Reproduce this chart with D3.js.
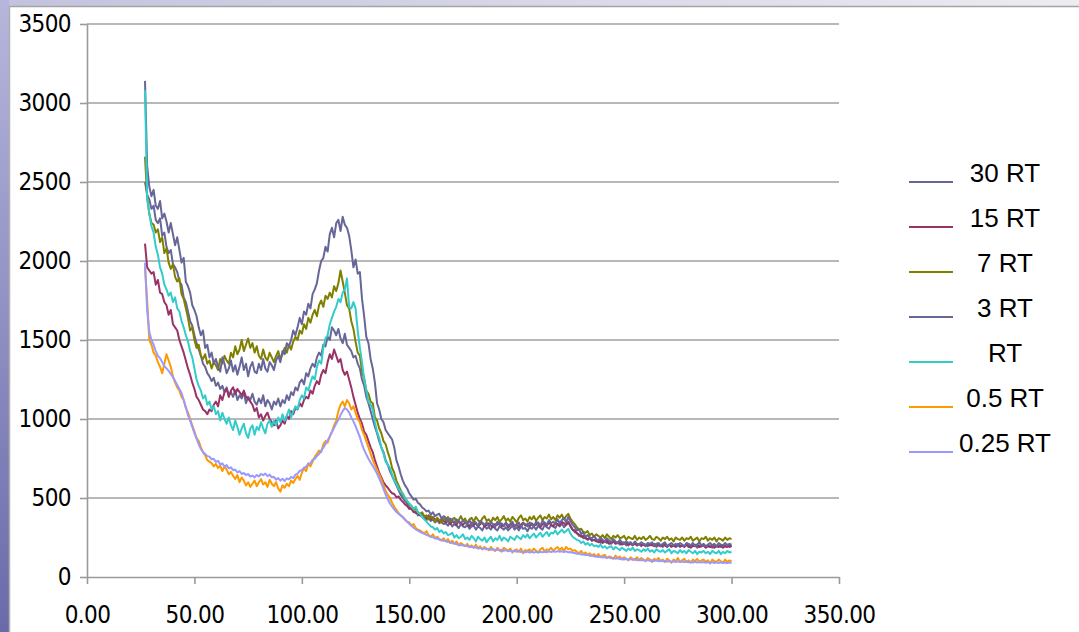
<!DOCTYPE html>
<html>
<head>
<meta charset="utf-8">
<script src="https://cdn.jsdelivr.net/npm/d3@7"></script>
<style>
  html, body { margin: 0; padding: 0; background: #ffffff; }
  svg { display: block; }
</style>
</head>
<body>
<svg id="chart" width="1079" height="632"></svg>
<script>
// Sample positions: one reading per unit from 27 to 300
const xStart = 27;
const xEnd = 300;

const xTicks = [0, 50, 100, 150, 200, 250, 300, 350];
const yTicks = [0, 500, 1000, 1500, 2000, 2500, 3000, 3500];

const seriesNames = ["30 RT", "15 RT", "7 RT", "3 RT", "RT", "0.5 RT", "0.25 RT"];
const seriesColors = ["#666699", "#993366", "#808000", "#666699", "#33CCCC", "#FF9900", "#9999FF"];

const rt30 = [
  2500, 2420, 2390, 2330, 2350, 2260, 2240, 2270, 2160, 2180,
  2090, 2050, 2070, 1980, 1960, 1930, 1870, 1850, 1770, 1740,
  1680, 1620, 1590, 1530, 1480, 1440, 1400, 1350, 1330, 1290,
  1270, 1240, 1260, 1210, 1230, 1190, 1210, 1170, 1200, 1150,
  1170, 1140, 1180, 1120, 1150, 1130, 1170, 1100, 1140, 1120,
  1160, 1110, 1090, 1130, 1100, 1150, 1080, 1120, 1100, 1060,
  1110, 1090, 1130, 1080, 1120, 1100, 1150, 1120, 1170, 1150,
  1200, 1180, 1230, 1250, 1220, 1290, 1270, 1320, 1350, 1330,
  1390, 1420, 1400, 1470, 1460, 1520, 1500, 1580, 1560, 1530,
  1570, 1510, 1480, 1540, 1470, 1450, 1430, 1390, 1400, 1350,
  1320, 1250, 1210, 1140, 1100, 1050, 1000, 950, 910, 860,
  820, 790, 740, 710, 670, 640, 610, 580, 550, 520,
  500, 480, 465, 440, 430, 410, 415, 390, 395, 380,
  375, 360, 380, 355, 365, 345, 360, 340, 350, 335,
  340, 325, 345, 320, 335, 325, 310, 335, 320, 315,
  330, 305, 320, 325, 300, 320, 310, 295, 325, 305,
  315, 300, 325, 305, 295, 320, 310, 300, 315, 295,
  310, 325, 300, 315, 295, 320, 305, 310, 290, 315,
  305, 320, 300, 325, 310, 300, 330, 315, 305, 330,
  320, 310, 335, 320, 340, 315, 330, 345, 325, 300,
  285, 280, 260, 265, 245, 250, 235, 245, 230, 235,
  225, 235, 215, 230, 225, 215, 230, 210, 225, 215,
  220, 205, 215, 220, 200, 215, 210, 200, 215, 205,
  210, 195, 210, 205, 195, 210, 200, 210, 190, 205,
  200, 190, 210, 195, 205, 190, 200, 195, 210, 190,
  200, 195, 205, 190, 200, 195, 205, 185, 200, 195,
  205, 190, 200, 195, 185, 205, 195, 200, 190, 200,
  195, 205, 190, 200
];

const rt15 = [
  2110, 1960, 1940, 1920, 1930, 1850, 1880, 1800, 1790, 1740,
  1720, 1660, 1690, 1600, 1580, 1560, 1500, 1460, 1420, 1370,
  1320, 1280, 1230, 1190, 1140, 1120, 1090, 1060, 1050, 1030,
  1060, 1050, 1090, 1110, 1080, 1150, 1120, 1170, 1190, 1140,
  1180, 1200, 1160, 1190, 1170, 1150, 1180, 1140, 1130, 1110,
  1090, 1050, 1070, 1010, 1030, 990, 1020, 1040, 1000, 980,
  960, 990, 940, 960, 990, 970, 1020, 1000, 1050, 1030,
  1070, 1060, 1100, 1080, 1120, 1140, 1130, 1180, 1160, 1210,
  1240, 1220, 1280, 1310, 1290, 1360, 1410, 1380, 1440, 1400,
  1360, 1380, 1310, 1280, 1300, 1250, 1200, 1140, 1090, 1040,
  1000, 970, 920, 900, 860, 820, 790, 740, 700, 660,
  630, 600, 580, 565, 545, 530, 525, 505, 510, 490,
  475, 460, 450, 430, 435, 415, 405, 410, 390, 400,
  385, 370, 390, 365, 380, 360, 370, 350, 365, 355,
  345, 360, 335, 350, 345, 330, 355, 340, 330, 345,
  335, 320, 345, 330, 340, 320, 335, 345, 320, 330,
  340, 325, 315, 335, 330, 345, 320, 330, 340, 315,
  330, 340, 320, 335, 315, 330, 345, 325, 335, 320,
  340, 325, 330, 345, 315, 335, 340, 325, 345, 330,
  320, 345, 335, 325, 350, 340, 330, 350, 320, 300,
  295, 275, 270, 255, 260, 245, 240, 250, 230, 235,
  230, 220, 235, 215, 225, 230, 210, 220, 225, 210,
  215, 220, 205, 210, 220, 200, 215, 205, 210, 200,
  210, 200, 205, 195, 210, 200, 205, 195, 210, 200,
  195, 205, 200, 190, 205, 195, 200, 190, 205, 195,
  200, 190, 205, 195, 185, 200, 195, 205, 190, 195,
  200, 185, 195, 190, 200, 185, 195, 190, 200, 185,
  195, 190, 200, 190
];

const rt7 = [
  2660, 2400, 2300, 2240, 2230, 2180, 2200, 2120, 2150, 2050,
  2080, 1990, 1950, 1980, 1900, 1870, 1890, 1790, 1760, 1700,
  1640, 1560, 1580, 1500, 1450, 1470, 1400, 1380, 1410, 1350,
  1370, 1320, 1360, 1340, 1310, 1380, 1350, 1400, 1370, 1350,
  1420, 1390, 1460, 1410, 1440, 1500, 1430, 1470, 1510, 1450,
  1480, 1420, 1460, 1400, 1380, 1440, 1390, 1370, 1420, 1390,
  1360, 1400, 1430, 1380, 1410, 1450, 1420, 1470, 1440, 1490,
  1520, 1500, 1560, 1540, 1600, 1570, 1640, 1610, 1660, 1690,
  1650, 1720, 1750, 1710, 1780, 1760, 1800, 1770, 1840, 1810,
  1860, 1940, 1870, 1800, 1720, 1700, 1620, 1570, 1490, 1420,
  1400, 1300, 1260, 1180, 1160, 1110, 1100, 1010, 990, 940,
  910, 860, 840, 790, 750, 690, 660, 610, 580, 550,
  520, 500, 480, 460, 450, 425, 435, 405, 400, 410,
  380, 390, 365, 385, 370, 350, 375, 360, 345, 370,
  360, 380, 350, 365, 375, 345, 360, 385, 355, 370,
  340, 365, 375, 350, 380, 360, 345, 370, 385, 355,
  365, 345, 375, 360, 380, 350, 365, 385, 355, 370,
  350, 380, 365, 345, 375, 390, 360, 370, 350, 380,
  365, 385, 355, 375, 390, 360, 380, 370, 395, 365,
  380, 360, 390, 375, 395, 365, 385, 400, 370, 350,
  335, 315, 300, 305, 285, 280, 290, 265, 275, 255,
  270, 260, 250, 265, 245, 270, 255, 240, 260, 250,
  265, 245, 250, 260, 235, 255, 245, 240, 260, 235,
  250, 240, 255, 235, 245, 260, 240, 235, 255, 245,
  230, 250, 240, 255, 235, 245, 225, 250, 240, 235,
  250, 230, 245, 240, 255, 230, 240, 250, 225, 245,
  240, 255, 230, 245, 235, 250, 225, 245, 240, 230,
  250, 235, 245, 240
];

const rt3 = [
  3140, 2600, 2470, 2410, 2450, 2350, 2330, 2380, 2270, 2300,
  2250, 2180, 2240, 2170, 2100, 2150, 2070, 1990, 2020, 1870,
  1840, 1800, 1720, 1690, 1650, 1580, 1530, 1560, 1450, 1470,
  1390, 1420, 1350, 1380, 1330, 1300, 1390, 1350, 1290, 1320,
  1370, 1300, 1340, 1280, 1330, 1390, 1310, 1350, 1270, 1330,
  1360, 1300, 1290, 1350, 1310, 1380, 1320, 1300, 1360, 1340,
  1310, 1370, 1400, 1360, 1430, 1410, 1480, 1460, 1500, 1560,
  1530, 1580, 1640, 1600, 1680, 1660, 1730, 1700, 1790, 1820,
  1860, 1940, 2000, 2020, 2090, 2060, 2170, 2210, 2150, 2240,
  2260, 2190, 2280, 2230, 2210, 2160, 2070, 1960, 2010, 1920,
  1930, 1760, 1650, 1520, 1480, 1380, 1320, 1230, 1100, 1060,
  1000, 980, 930, 910, 890, 870, 820, 740, 700, 650,
  610, 580, 560, 530, 510, 490, 495, 470, 460, 440,
  430, 415, 420, 395, 410, 385, 395, 400, 370, 385,
  375, 350, 370, 360, 340, 365, 350, 335, 360, 345,
  335, 360, 325, 350, 345, 320, 355, 340, 330, 345,
  320, 345, 335, 315, 350, 330, 340, 320, 345, 325,
  335, 350, 320, 330, 345, 315, 340, 335, 320, 345,
  330, 320, 350, 340, 325, 355, 345, 330, 360, 340,
  350, 335, 365, 340, 360, 375, 345, 380, 355, 330,
  315, 295, 300, 275, 280, 255, 265, 250, 245, 260,
  240, 230, 250, 235, 225, 245, 230, 220, 240, 225,
  215, 235, 220, 210, 225, 215, 220, 205, 225, 210,
  205, 220, 210, 200, 215, 210, 220, 200, 210, 215,
  200, 210, 220, 195, 205, 215, 200, 210, 195, 215,
  205, 195, 215, 210, 200, 215, 195, 205, 220, 200,
  210, 195, 205, 215, 200, 210, 195, 215, 205, 200,
  215, 200, 210, 205
];

const rt1 = [
  3080, 2400, 2300, 2220, 2180, 2090, 2040, 1960, 1920, 1850,
  1820, 1780, 1800, 1740, 1770, 1700, 1680, 1620, 1580, 1530,
  1490, 1430, 1390, 1320, 1250, 1210, 1180, 1130, 1150, 1090,
  1110, 1060, 1080, 1030, 1050, 990, 1040, 1000, 970, 1010,
  960, 930, 990, 950, 900, 940, 970, 910, 880, 940,
  960, 900, 950, 930, 980, 940, 910, 970, 990, 950,
  990, 960, 1010, 980, 1030, 990, 1020, 1060, 1010, 1050,
  1080, 1060, 1120, 1150, 1130, 1200, 1180, 1230, 1270, 1250,
  1330, 1370, 1350, 1450, 1510, 1530, 1600, 1640, 1680, 1710,
  1760, 1740, 1800, 1820, 1890, 1710, 1700, 1740, 1700, 1560,
  1450, 1360, 1250, 1180, 1110, 1090, 1060, 980, 920, 880,
  820, 780, 730, 710, 690, 650, 610, 590, 560, 540,
  530, 500, 480, 465, 450, 430, 445, 410, 400, 380,
  365, 350, 335, 320, 315, 300, 310, 285, 295, 275,
  285, 265, 270, 280, 250, 265, 245, 255, 270, 240,
  250, 235, 260, 245, 225, 255, 240, 230, 250, 220,
  240, 255, 225, 245, 235, 260, 230, 250, 240, 225,
  255, 245, 235, 260, 250, 240, 265, 250, 270, 245,
  260, 275, 250, 265, 280, 255, 270, 285, 260, 280,
  275, 295, 270, 285, 300, 280, 290, 305, 275, 255,
  245, 235, 230, 215, 225, 205, 215, 200, 210, 195,
  200, 190, 205, 185, 195, 180, 190, 195, 175, 190,
  180, 170, 185, 175, 165, 180, 170, 185, 165, 175,
  170, 160, 175, 165, 180, 160, 170, 155, 175, 165,
  160, 170, 155, 165, 175, 150, 165, 160, 150, 170,
  155, 165, 150, 170, 160, 150, 165, 145, 160, 155,
  165, 150, 160, 145, 165, 155, 150, 165, 145, 160,
  150, 165, 155, 160
];

const rtHalf = [
  1960, 1750, 1500, 1470, 1420, 1400, 1360, 1330, 1290, 1350,
  1410, 1370, 1330, 1270, 1230, 1200, 1180, 1140, 1120, 1070,
  1040, 1000, 960, 920, 880, 860, 820, 790, 770, 740,
  730, 720, 700, 715, 690, 705, 670, 700, 680, 650,
  665, 640, 620, 645, 600, 630, 610, 580, 600, 570,
  590, 610, 575, 600, 620, 585, 600, 570, 615, 590,
  575, 600, 560, 540, 580, 565, 590, 575, 610, 595,
  620, 640, 615, 660, 690, 670, 720, 700, 730, 760,
  780, 800, 790, 840, 860, 850, 890, 920, 960, 990,
  1050, 1090, 1110, 1080, 1120, 1100, 1060, 1080, 1040, 1000,
  980, 930, 900, 860, 820, 780, 740, 710, 680, 650,
  620, 580, 545, 520, 500, 470, 445, 425, 405, 390,
  380, 365, 350, 345, 325, 335, 310, 300, 295, 285,
  275, 290, 265, 255, 270, 245, 255, 240, 230, 245,
  225, 240, 215, 230, 210, 225, 200, 215, 205, 195,
  210, 190, 200, 185, 205, 180, 195, 175, 190, 180,
  170, 190, 175, 165, 185, 170, 160, 185, 175, 165,
  180, 155, 170, 175, 160, 180, 150, 170, 165, 175,
  160, 180, 165, 155, 175, 185, 160, 175, 170, 185,
  165, 180, 190, 170, 185, 165, 190, 175, 180, 165,
  170, 160, 150, 165, 145, 155, 140, 150, 135, 145,
  130, 145, 125, 135, 140, 120, 130, 125, 115, 135,
  120, 130, 110, 125, 115, 105, 125, 115, 110, 125,
  105, 120, 110, 100, 120, 110, 95, 115, 105, 120,
  100, 110, 95, 115, 105, 90, 110, 100, 120, 95,
  105, 115, 95, 105, 90, 110, 100, 115, 95, 105,
  110, 95, 105, 85, 110, 100, 95, 110, 100, 90,
  110, 95, 105, 100
];

const rtQuarter = [
  1990, 1690, 1550, 1500, 1470, 1430, 1400, 1385, 1360, 1335,
  1320, 1305, 1285, 1265, 1240, 1215, 1190, 1165, 1120, 1075,
  1025, 990, 950, 910, 875, 840, 810, 790, 778, 765,
  762, 745, 748, 728, 735, 712, 720, 698, 708, 688,
  694, 676, 680, 662, 670, 652, 658, 645, 652, 636,
  642, 630, 646, 636, 652, 644, 655, 638, 648, 630,
  634, 616, 626, 610, 622, 608, 624, 618, 634, 626,
  648, 654, 672, 676, 692, 698, 716, 720, 742, 748,
  766, 778, 800, 818, 842, 866, 888, 918, 944, 972,
  995, 1025, 1050, 1070, 1060, 1040, 1010, 985, 955, 920,
  885, 840, 805, 775, 748, 725, 702, 680, 655, 625,
  592, 558, 522, 492, 465, 445, 428, 412, 400, 390,
  378, 362, 350, 336, 324, 312, 302, 294, 286, 279,
  273, 266, 262, 254, 252, 244, 243, 236, 235, 229,
  228, 221, 221, 214, 214, 207, 207, 201, 201, 196,
  196, 190, 192, 186, 188, 182, 184, 178, 181, 175,
  178, 172, 176, 169, 174, 168, 172, 165, 170, 163,
  168, 161, 166, 160, 164, 158, 162, 157, 161, 155,
  160, 154, 159, 155, 160, 156, 161, 157, 162, 158,
  163, 159, 164, 160, 163, 158, 162, 157, 158, 153,
  152, 147, 148, 142, 144, 138, 140, 134, 136, 130,
  131, 126, 129, 123, 126, 120, 124, 118, 121, 116,
  119, 113, 117, 111, 115, 110, 113, 108, 112, 106,
  110, 105, 108, 103, 107, 102, 106, 101, 105, 100,
  103, 99, 102, 97, 101, 96, 100, 95, 99, 95,
  98, 94, 97, 93, 97, 92, 96, 92, 95, 91,
  95, 90, 94, 90, 94, 89, 93, 89, 93, 89,
  92, 88, 92, 89
];

const seriesValues = [rt30, rt15, rt7, rt3, rt1, rtHalf, rtQuarter];
const xs = d3.range(xStart, xEnd + 1);

const svg = d3.select("#chart");
const W = 1079, H = 632;

// Window frame: gradient strips along the top and left edges
const defs = svg.append("defs");
const gTop = defs.append("linearGradient").attr("id", "gTop")
  .attr("x1", "0").attr("y1", "0").attr("x2", "1").attr("y2", "0");
gTop.append("stop").attr("offset", "0").attr("stop-color", "#c2c2de");
gTop.append("stop").attr("offset", "1").attr("stop-color", "#ececf1");
const gLeft = defs.append("linearGradient").attr("id", "gLeft")
  .attr("x1", "0").attr("y1", "0").attr("x2", "0").attr("y2", "1");
gLeft.append("stop").attr("offset", "0").attr("stop-color", "#b6b6dc");
gLeft.append("stop").attr("offset", "1").attr("stop-color", "#6a6aaa");

svg.append("rect").attr("width", W).attr("height", H).attr("fill", "#ffffff");
svg.append("rect").attr("x", 0).attr("y", 0).attr("width", W).attr("height", 7).attr("fill", "url(#gTop)");
svg.append("rect").attr("x", 0).attr("y", 0).attr("width", 9).attr("height", H).attr("fill", "url(#gLeft)");
svg.append("line").attr("x1", 9).attr("x2", W).attr("y1", 6.5).attr("y2", 6.5)
  .attr("stroke", "#a4a4a4").attr("stroke-width", 1.5);
svg.append("line").attr("x1", 9.5).attr("x2", 9.5).attr("y1", 6).attr("y2", H)
  .attr("stroke", "#b0b0b0").attr("stroke-width", 1.5);

// Scales
const x = d3.scaleLinear().domain([0, 350]).range([87, 839]);
const y = d3.scaleLinear().domain([0, 3500]).range([577, 24]);

const labelFont = "'DejaVu Sans Condensed', 'DejaVu Sans', sans-serif";

// Horizontal gridlines
svg.append("g").selectAll("line").data(yTicks.filter(v => v > 0)).join("line")
  .attr("x1", x(0)).attr("x2", x(350))
  .attr("y1", d => y(d)).attr("y2", d => y(d))
  .attr("stroke", "#a0a0a0").attr("stroke-width", 1.6);

// Y axis
const yAxis = d3.axisLeft(y).tickValues(yTicks).tickSize(7).tickSizeOuter(0).tickPadding(9)
  .tickFormat(d3.format("d"));
const gy = svg.append("g").attr("transform", `translate(${x(0)},0)`).call(yAxis);
gy.select(".domain").attr("stroke", "#9a9a9a").attr("stroke-width", 1.6);
gy.selectAll(".tick line").attr("stroke", "#9a9a9a").attr("stroke-width", 1.6);
gy.selectAll(".tick text").attr("font-family", labelFont).attr("font-size", 24)
  .attr("fill", "#000").attr("letter-spacing", "-0.6");

// X axis
const xAxis = d3.axisBottom(x).tickValues(xTicks).tickSize(7).tickSizeOuter(0).tickPadding(22)
  .tickFormat(d3.format(".2f"));
const gx = svg.append("g").attr("transform", `translate(0,${y(0)})`).call(xAxis);
gx.select(".domain").attr("stroke", "#9a9a9a").attr("stroke-width", 1.6);
gx.selectAll(".tick line").attr("stroke", "#9a9a9a").attr("stroke-width", 1.6);
gx.selectAll(".tick text").attr("font-family", labelFont).attr("font-size", 24)
  .attr("fill", "#000").attr("letter-spacing", "-0.6");

// Series lines
const line = d3.line().x((d, i) => x(xs[i])).y(d => y(d));
svg.append("g").selectAll("path").data(seriesValues).join("path")
  .attr("d", d => line(d))
  .attr("fill", "none")
  .attr("stroke", (d, i) => seriesColors[i])
  .attr("stroke-width", 2)
  .attr("stroke-linejoin", "round");

// Legend
const legend = svg.append("g");
const legendRow = d3.scaleLinear().domain([0, 6]).range([182, 452]);
seriesNames.forEach((name, i) => {
  const ly = legendRow(i);
  legend.append("line").attr("x1", 909).attr("x2", 953).attr("y1", ly).attr("y2", ly)
    .attr("stroke", seriesColors[i]).attr("stroke-width", 2);
  legend.append("text").attr("x", 1005).attr("y", ly).attr("text-anchor", "middle")
    .attr("font-family", "'Liberation Sans', Arial, sans-serif").attr("font-size", 26)
    .attr("fill", "#000").text(name);
});
</script>
</body>
</html>
